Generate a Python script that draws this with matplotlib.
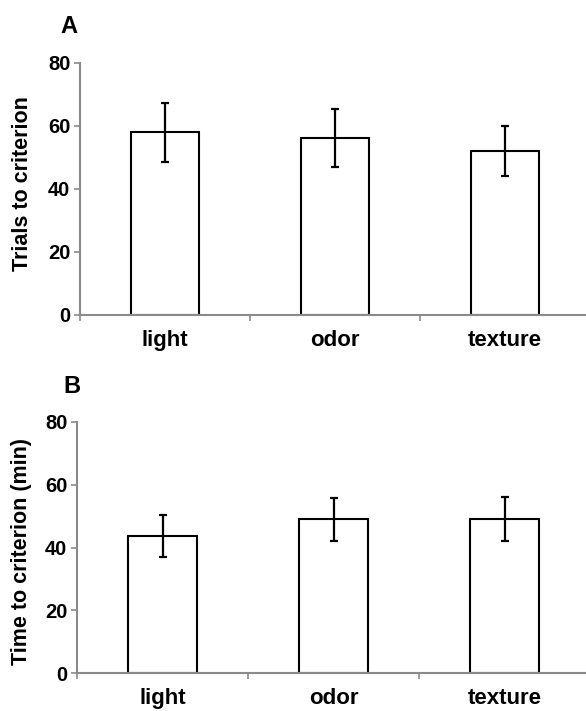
import matplotlib
matplotlib.use("Agg")
import matplotlib.pyplot as plt
import numpy as np

plt.rcParams['font.family'] = ['Liberation Sans', 'DejaVu Sans']
plt.rcParams['font.weight'] = 'bold'

categories = ["light", "odor", "texture"]
trials_mean = [58, 56.3, 52]
trials_sem = [9.4, 9.2, 8.0]
time_mean = [43.7, 49, 49]
time_sem = [6.6, 6.8, 7.0]
yticks = [0, 20, 40, 60, 80]

W, H = 586, 711
fig = plt.figure(figsize=(W / 100, H / 100), dpi=100)

GRAY = "#8a8a8a"

def make_panel(rect, means, sems, ylabel, label_xy, letter, letter_xy):
    ax = fig.add_axes(rect)
    x = np.arange(len(categories))
    ax.bar(x, means, width=0.4, color="white", edgecolor="black", linewidth=1.5, zorder=2)
    ax.errorbar(x, means, yerr=sems, fmt="none", ecolor="black", elinewidth=1.6,
                capsize=3, capthick=1.6, zorder=3)
    ax.set_xlim(-0.5, 2.5)
    ax.set_ylim(0, 80)
    ax.set_yticks(yticks)
    ax.set_yticklabels([str(v) for v in yticks], fontsize=14.5, fontweight="bold")
    ax.set_xticks([-0.5, 0.5, 1.5, 2.5])
    ax.set_xticklabels([])
    ax.set_xticks(x, minor=True)
    ax.set_xticklabels(categories, minor=True, fontsize=16, fontweight="bold")
    ax.tick_params(axis="x", which="minor", length=0, pad=10.5)
    ax.tick_params(axis="x", which="major", length=4, width=1.2, color=GRAY, direction="out")
    ax.tick_params(axis="y", length=4, width=1.2, color=GRAY, direction="out", pad=3)
    for s in ["top", "right"]:
        ax.spines[s].set_visible(False)
    for s in ["left", "bottom"]:
        ax.spines[s].set_color(GRAY)
        ax.spines[s].set_linewidth(1.5)
    ax.set_ylabel(ylabel, fontsize=15.5, fontweight="bold")
    ax.yaxis.set_label_coords(*label_xy)
    fig.text(letter_xy[0], letter_xy[1], letter, fontsize=17, fontweight="bold",
             ha="left", va="baseline")
    return ax

# Panel A
make_panel([80 / W, 1 - 315 / H, 510 / W, 252 / H], trials_mean, trials_sem,
           "Trials to criterion", (-0.092, 0.52), "A", (60 / W, 1 - 33 / H))
# Panel B
make_panel([77 / W, 1 - 673.3 / H, 513 / W, 251.6 / H], time_mean, time_sem,
           "Time to criterion (min)", (-0.088, 0.486), "B", (63 / W, 1 - 393 / H))

fig.savefig("out.png", dpi=100)
